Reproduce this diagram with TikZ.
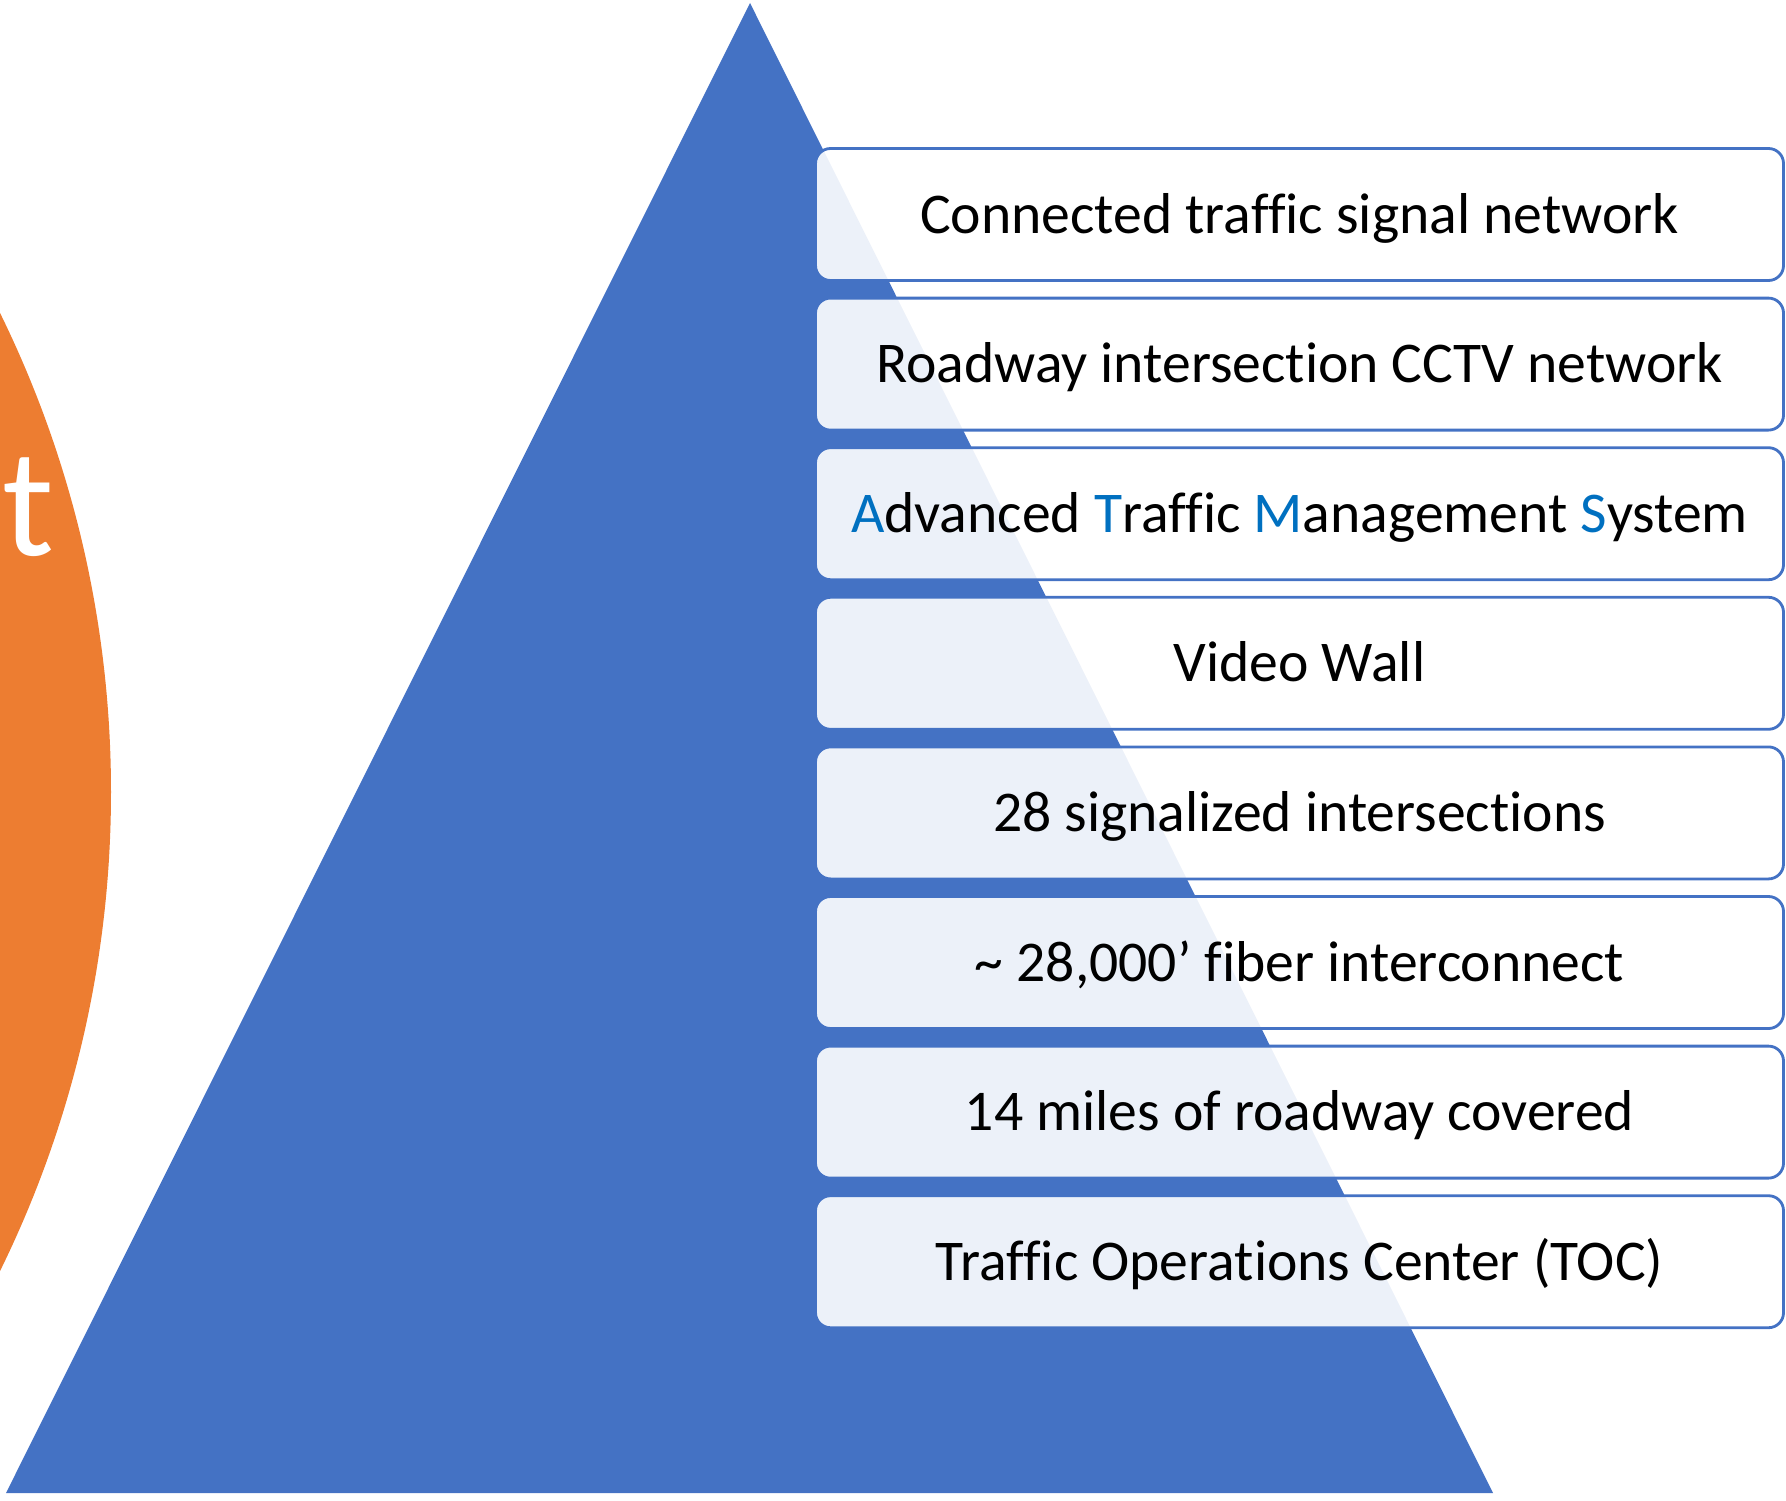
\documentclass[tikz,border=0pt]{standalone}
\usepackage{fontspec}
\setmainfont[Ligatures=NoCommon]{Carlito}
\definecolor{pyrblue}{HTML}{4472C4}
\definecolor{circorange}{HTML}{ED7D31}
\definecolor{lettblue}{HTML}{0070C0}
\newcommand{\hl}[1]{\textcolor{lettblue}{#1}}
\tikzset{
  listbox/.style={draw=pyrblue, line width=0.8pt, fill=white, fill opacity=0.9, text opacity=1,
    rounded corners=1.5mm, minimum width=96.8mm, minimum height=13.2mm,
    text height=3.7mm, text depth=0mm, inner sep=0pt,
    font=\fontsize{16.4}{19}\selectfont}
}
\begin{document}
\begin{tikzpicture}[x=0.1mm, y=-0.1mm]
    \useasboundingbox (0,0) rectangle (1786,1500);
    \clip (0,0) rectangle (1786,1500);
    % orange circle on the left
    \fill[circorange] (-976,792) circle (1087);
    \node[text=white, anchor=base, inner sep=0pt, font=\fontsize{44}{50}\selectfont] (tletter) at (28,555) {t};

    % pyramid
    \fill[pyrblue] (750,3) -- (6,1493) -- (1493,1493) -- cycle;

    % list boxes
    \node[listbox] (signal) at (1299.5,214.5) {Connected traffic signal network};
    \node[listbox] (cctv) at (1299.5,364.1) {Roadway intersection CCTV network};
    \node[listbox] (atms) at (1299.5,513.7) {\hl{A}dvanced \hl{T}raffic \hl{M}anagement \hl{S}ystem};
    \node[listbox] (wall) at (1299.5,663.3) {Video Wall};
    \node[listbox] (inter) at (1299.5,812.9) {28 signalized intersections};
    \node[listbox] (fiber) at (1299.5,962.5) {\char`\~{} 28,000’ fiber interconnect};
    \node[listbox] (miles) at (1299.5,1112.1) {14 miles of roadway covered};
    \node[listbox] (toc) at (1299.5,1261.7) {Traffic Operations Center (TOC)};
\end{tikzpicture}
\end{document}
